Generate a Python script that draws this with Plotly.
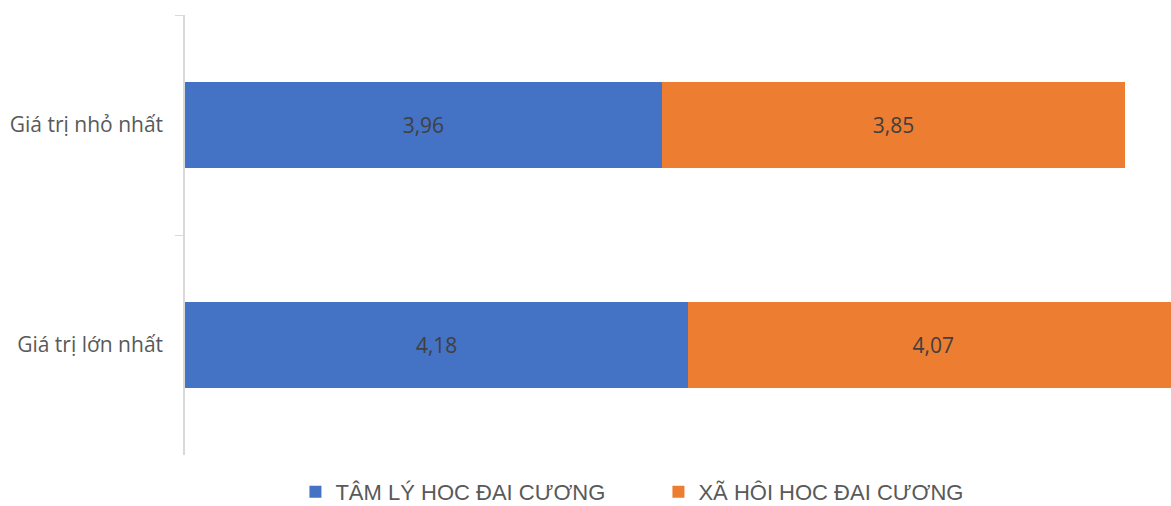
import plotly.graph_objects as go

categories = ["Giá trị nhỏ nhất", "Giá trị lớn nhất"]
series_names = ["TÂM LÝ HOC ĐAI CƯƠNG", "XÃ HÔI HOC ĐAI CƯƠNG"]
tam_ly = [3.96, 4.18]
xa_hoi = [3.85, 4.07]
colors = ["#4472C4", "#ED7D31"]

fig = go.Figure()
for name, vals, col in zip(series_names, [tam_ly, xa_hoi], colors):
    fig.add_trace(go.Bar(
        y=categories, x=vals, name=name, orientation="h",
        marker=dict(color=col, line=dict(width=0)),
        text=[f"{v:.2f}".replace(".", ",") for v in vals],
        textposition="inside", insidetextanchor="middle",
        textfont=dict(family="Open Sans", size=21, color="#404040"),
        hoverinfo="skip",
    ))

fig.update_layout(
    barmode="stack",
    bargap=0.605,
    width=1171, height=506,
    margin=dict(l=185, r=0, t=15, b=51, autoexpand=False),
    paper_bgcolor="white", plot_bgcolor="white",
    showlegend=True,
    legend=dict(orientation="h", x=0.112, xanchor="left", y=-0.084, yanchor="middle",
                traceorder="normal", entrywidth=318,
                font=dict(family="Liberation Sans", size=22, color="#595959"),
                itemwidth=30, tracegroupgap=0),
    uniformtext=dict(mode=False),
)
fig.update_xaxes(range=[0, 8.19], showgrid=False, zeroline=False, showticklabels=False,
                 showline=False, fixedrange=True)
fig.update_yaxes(autorange="reversed", type="category", showline=True, linecolor="#D9D9D9",
                 linewidth=1.5, ticks="outside", tickson="boundaries", ticklen=8,
                 tickcolor="#D9D9D9", showgrid=False, zeroline=False,
                 tickfont=dict(family="Open Sans", size=21, color="#595959"),
                 ticklabelstandoff=16)

fig.write_html("out.html", config={"displayModeBar": False},
               post_script="document.body.style.margin='0px';")
